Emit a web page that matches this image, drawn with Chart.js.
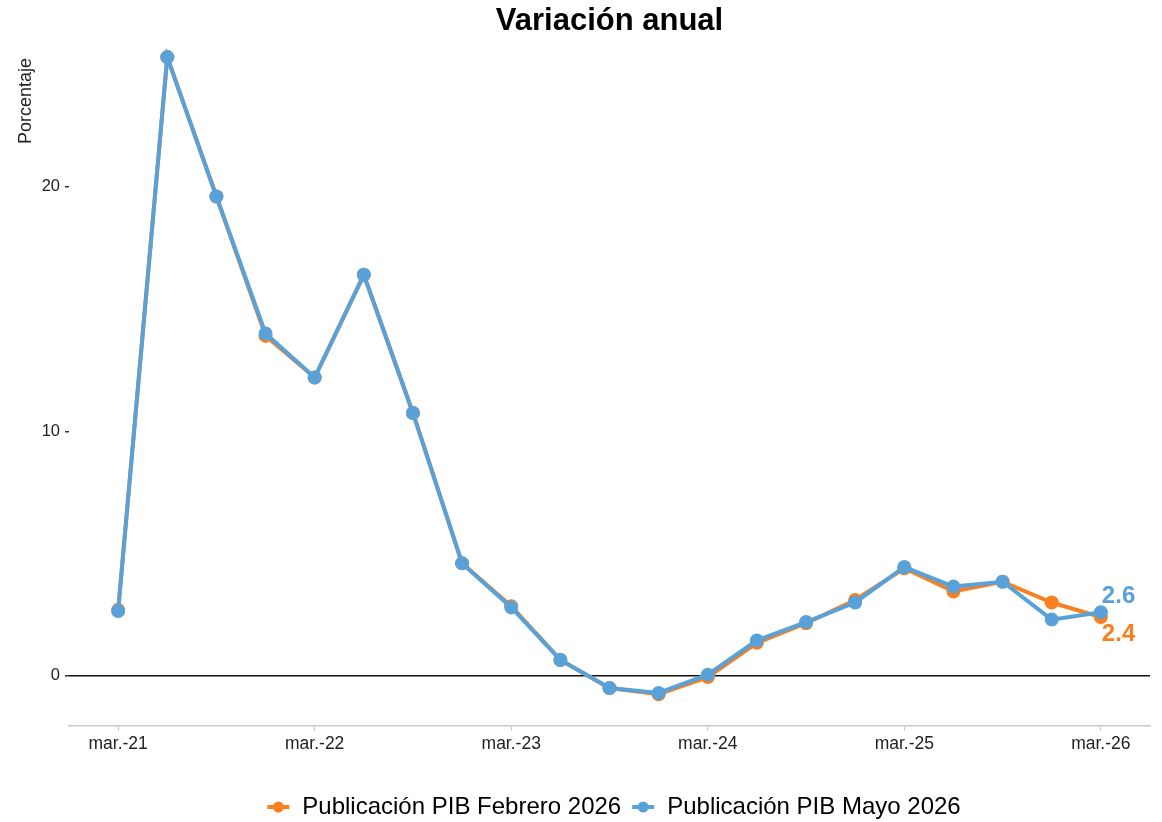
<!DOCTYPE html>
<html>
<head>
<meta charset="utf-8">
<script src="https://cdn.jsdelivr.net/npm/chart.js@4.4.1/dist/chart.umd.min.js"></script>
<style>
  html, body { margin: 0; padding: 0; background: #fff; overflow: hidden; }
  #wrap { width: 1162px; height: 829px; position: relative; }
</style>
</head>
<body>
<div id="wrap"><canvas id="chart"></canvas></div>
<script>
// quarters, mar.-21 .. mar.-26
const quarters = ['mar.-21','jun.-21','sep.-21','dic.-21','mar.-22','jun.-22','sep.-22','dic.-22',
  'mar.-23','jun.-23','sep.-23','dic.-23','mar.-24','jun.-24','sep.-24','dic.-24',
  'mar.-25','jun.-25','sep.-25','dic.-25','mar.-26'];
const febrero = [2.7, 25.3, 19.6, 13.9, 12.2, 16.4, 10.75, 4.6, 2.85, 0.65, -0.5, -0.75,
  -0.05, 1.35, 2.15, 3.1, 4.4, 3.45, 3.85, 3.0, 2.4];
const mayo = [2.65, 25.3, 19.6, 14.0, 12.2, 16.4, 10.75, 4.6, 2.8, 0.65, -0.5, -0.7,
  0.05, 1.45, 2.2, 3.0, 4.45, 3.65, 3.85, 2.3, 2.6];
const xTickIdx = [0, 4, 8, 12, 16, 20];
const yTicks = [0, 10, 20];

const ORANGE = '#fa7f1e';
const BLUE = '#58a2d9';
const FONT = '"Liberation Sans", Arial, sans-serif';

// legend marker: short line with a dot
function marker(color) {
    const c = document.createElement('canvas');
    c.width = 24; c.height = 14;
    const g = c.getContext('2d');
    g.strokeStyle = color; g.lineWidth = 4;
    g.beginPath(); g.moveTo(1, 7); g.lineTo(23, 7); g.stroke();
    g.fillStyle = color;
    g.beginPath(); g.arc(12, 7, 5.5, 0, Math.PI * 2); g.fill();
    return c;
}

const extras = {
    id: 'extras',
    afterLayout(chart) {
        // ggplot centres the legend on the panel, not the canvas
        const a = chart.chartArea;
        const shift = (a.left + a.right) / 2 - chart.width / 2 + 10;
        chart.legend.left += shift;
        chart.legend.right += shift;
    },
    afterDraw(chart) {
        const ctx = chart.ctx, area = chart.chartArea;
        ctx.save();
        ctx.fillStyle = '#000';
        ctx.font = 'bold 31px ' + FONT;
        ctx.textAlign = 'center'; ctx.textBaseline = 'middle';
        ctx.fillText('Variación anual', (area.left + area.right) / 2, 21);

        ctx.font = '18px ' + FONT;
        ctx.fillStyle = '#222';
        ctx.translate(26, 101);
        ctx.rotate(-Math.PI / 2);
        ctx.fillText('Porcentaje', 0, 0);
        ctx.restore();
    },
    afterDatasetsDraw(chart) {
        const ctx = chart.ctx, x = chart.scales.x, y = chart.scales.y;
        const last = quarters.length - 1;
        ctx.save();
        ctx.font = 'bold 24px ' + FONT;
        ctx.textAlign = 'left'; ctx.textBaseline = 'middle';
        ctx.fillStyle = BLUE;
        ctx.fillText(mayo[last].toFixed(1), x.getPixelForValue(last) + 1, y.getPixelForValue(mayo[last]) - 16);
        ctx.fillStyle = ORANGE;
        ctx.fillText(febrero[last].toFixed(1), x.getPixelForValue(last) + 1, y.getPixelForValue(febrero[last]) + 17);
        ctx.restore();
    }
};

new Chart(document.getElementById('chart'), {
    type: 'line',
    data: {
        datasets: [
            {
                label: 'Publicación PIB Febrero 2026',
                data: febrero.map((v, i) => ({ x: i, y: v })),
                borderColor: ORANGE, backgroundColor: ORANGE,
                borderWidth: 4, pointRadius: 5, pointHoverRadius: 5,
                order: 2
            },
            {
                label: 'Publicación PIB Mayo 2026',
                data: mayo.map((v, i) => ({ x: i, y: v })),
                borderColor: BLUE, backgroundColor: BLUE,
                borderWidth: 4, pointRadius: 5, pointHoverRadius: 5,
                order: 1
            }
        ]
    },
    options: {
        responsive: true,
        maintainAspectRatio: false,
        animation: false,
        layout: { padding: { top: 40, right: 12, left: 0, bottom: 0 } },
        scales: {
            x: {
                type: 'linear', min: -1, max: 21,
                afterBuildTicks: (s) => { s.ticks = xTickIdx.map(v => ({ value: v })); },
                afterFit: (s) => { s.height = 59; },
                grid: { drawOnChartArea: false, drawTicks: true, tickLength: 5, color: '#c8c8c8', tickColor: '#c8c8c8' },
                border: { display: true, color: '#c8c8c8', width: 1.5 },
                ticks: {
                    color: '#222', padding: 3,
                    font: { size: 17.5, family: FONT },
                    maxRotation: 0,
                    callback: (v) => quarters[v]
                }
            },
            y: {
                min: -2.05, max: 26,
                afterBuildTicks: (s) => { s.ticks = yTicks.map(v => ({ value: v })); },
                afterFit: (s) => { s.width = 69; },
                grid: {
                    drawTicks: true, tickLength: 4, tickColor: '#333', lineWidth: 1.5,
                    color: (c) => c.tick && c.tick.value === 0 ? '#111' : 'rgba(0,0,0,0)'
                },
                border: { display: false },
                ticks: {
                    color: '#222', padding: 5,
                    font: { size: 16.5, family: FONT }
                }
            }
        },
        plugins: {
            legend: {
                position: 'bottom',
                labels: {
                    usePointStyle: true,
                    padding: 10,
                    color: '#111',
                    font: { size: 24, family: FONT },
                    generateLabels: (chart) => chart.data.datasets.map((ds, i) => ({
                        text: ds.label,
                        pointStyle: marker(ds.borderColor),
                        fillStyle: ds.borderColor,
                        strokeStyle: ds.borderColor,
                        lineWidth: 0,
                        hidden: false,
                        datasetIndex: i
                    }))
                }
            },
            tooltip: { enabled: false }
        }
    },
    plugins: [extras]
});
</script>
</body>
</html>
